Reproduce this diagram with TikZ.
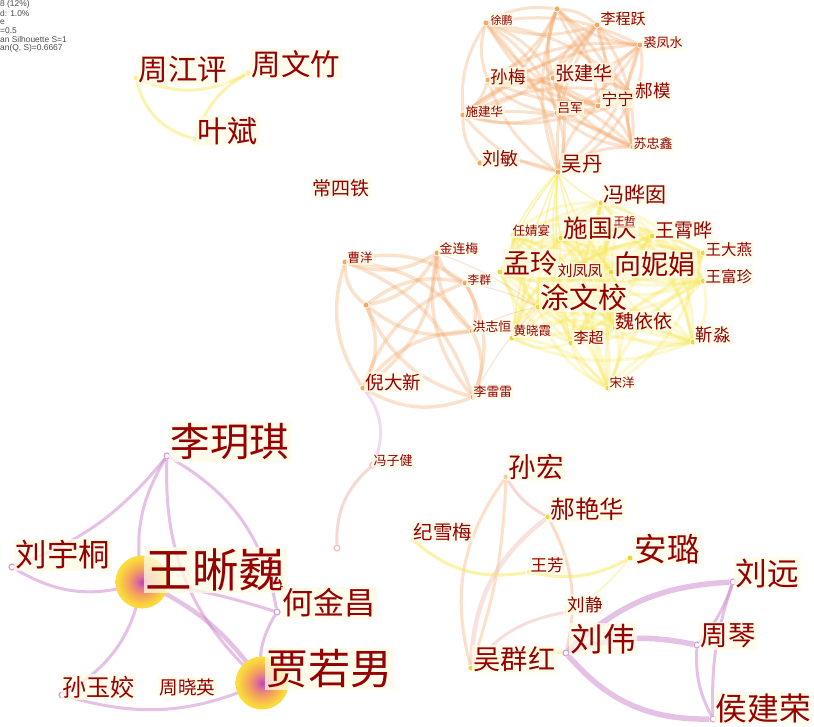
\documentclass[tikz,border=0pt]{standalone}
\usepackage{fontspec}
\setmainfont{Noto Sans CJK SC}
\newfontfamily\legfont{Liberation Sans}
\usetikzlibrary{backgrounds}
\definecolor{labred}{RGB}{150,0,0}
\definecolor{cream}{RGB}{255,252,230}
\definecolor{oedge}{RGB}{246,170,110}
\definecolor{yedge}{RGB}{248,232,80}
\definecolor{pedge}{RGB}{205,135,205}
\definecolor{kedge}{RGB}{240,190,185}
\definecolor{odotc}{RGB}{246,168,95}
\definecolor{ydotc}{RGB}{242,215,50}
\definecolor{pdotc}{RGB}{215,160,215}
\definecolor{hcA}{RGB}{185,70,180}
\definecolor{hcB}{RGB}{225,110,150}
\definecolor{hcC}{RGB}{245,165,90}
\definecolor{hcD}{RGB}{250,215,60}
\definecolor{hcE}{RGB}{248,238,85}
\pgfdeclareradialshading{hotspot}{\pgfpoint{0bp}{0bp}}{color(0bp)=(hcA); color(5bp)=(hcB); color(13bp)=(hcC); color(22bp)=(hcD); color(35bp)=(hcE); color(50bp)=(hcE)}
\tikzset{
  dotO/.style={circle, fill=odotc, draw=white, line width=0.6pt, inner sep=0pt, minimum size=6pt},
  dotY/.style={circle, fill=ydotc, draw=white, line width=0.6pt, inner sep=0pt, minimum size=6pt},
  dotP/.style={circle, fill=white, draw=pdotc, line width=1.2pt, inner sep=0pt, minimum size=6pt},
  hot/.style={circle, shading=hotspot, inner sep=0pt, minimum size=53pt},
  lab/.style={anchor=west, fill=cream, fill opacity=0.75, text opacity=1, text=labred, inner sep=1.5pt},
  fs/.style={font=\fontsize{#1}{#1}\selectfont},
  eO/.style={draw=oedge, line width=3pt, draw opacity=0.34},
  eY/.style={draw=yedge, line width=3pt, draw opacity=0.28},
  eP/.style={draw=pedge, line width=3pt, draw opacity=0.5},
  eK/.style={draw=kedge, line width=3pt, draw opacity=0.6},
  leg/.style={anchor=west, inner sep=0pt, text=black!70, font=\legfont\fontsize{8.4}{8.4}\selectfont}
}
\newcommand\cliquedraw[3]{%
  \foreach \a [count=\i] in {#2}{%
    \foreach \b [count=\j] in {#2}{%
      \ifnum\j>\i\relax
        \pgfmathtruncatemacro\bb{ifthenelse(mod(\i+\j,2)==0,#3,-#3)}%
        \draw[#1] (\a) to[bend left=\bb] (\b);
      \fi}}}
\begin{document}
\begin{tikzpicture}[x=1pt,y=-1pt]
\useasboundingbox (0,0) rectangle (814,726);
% legend
\node[leg] (g1) at (0,4.5) {8 (12\%)};
\node[leg] (g2) at (0,13.3) {d: 1.0\%};
\node[leg] (g3) at (0,22) {e};
\node[leg] (g4) at (0,30.7) {=0.5};
\node[leg] (g5) at (0,39.4) {an Silhouette S=1};
\node[leg] (g6) at (0,48.2) {an(Q, S)=0.6667};
% ---------- dots ----------
% top cluster
\node[dotO] (t0) at (557,9) {};
\node[dotO] (t1) at (486,23) {};
\node[dotO] (t2) at (597,25) {};
\node[dotO] (t3) at (640,45) {};
\node[dotO] (t4) at (488,80) {};
\node[dotO] (t5) at (553,78) {};
\node[dotO] (t6) at (598,106) {};
\node[dotO] (t7) at (633,95) {};
\node[dotO] (t8) at (463,115) {};
\node[dotO] (t9) at (557,113) {};
\node[dotO] (t10) at (633,147) {};
\node[dotO] (t11) at (480,163) {};
\node[dotO] (t12) at (558,172) {};
% yellow cluster
\node[dotY] (y1) at (601,203) {};
\node[dotY] (y2) at (561,238) {};
\node[dotY] (y3) at (614,226) {};
\node[dotY] (y4) at (513,235) {};
\node[dotY] (y5) at (652,236) {};
\node[dotY] (y6) at (703,253) {};
\node[dotY] (y7) at (703,281) {};
\node[dotY] (y8) at (500,272) {};
\node[dotY] (y9) at (557,275) {};
\node[dotY] (y10) at (611,272) {};
\node[dotY] (y11) at (538,307) {};
\node[dotY] (y12) at (512,338) {};
\node[dotY] (y13) at (571,343) {};
\node[dotY] (y14) at (615,328) {};
\node[dotY] (y15) at (693,342) {};
\node[dotY] (y16) at (608,388) {};
% orange left cluster
\node[dotO] (o1) at (345,262) {};
\node[dotO] (o2) at (437,253) {};
\node[dotO] (o3) at (465,283) {};
\node[dotO] (o4) at (366,305) {};
\node[dotO] (o5) at (472,331) {};
\node[dotO] (o6) at (363,388) {};
\node[dotO] (o7) at (473,397) {};
\node[dotP, draw=kedge] (o8) at (373,465) {};
\node[dotP, draw=kedge] (o9) at (337,548) {};
% top left
\node[dotY, fill=yedge!60] (z1) at (136,78) {};
\node[dotY, fill=yedge!60] (z2) at (248,73) {};
\node[dotY, fill=yedge!60] (z3) at (195,139) {};
% bottom left
\node[dotP] (p1) at (167,456) {};
\node[dotP] (p2) at (12,567) {};
\node[hot] (p3) at (142,582) {};
\node[dotP] (p4) at (277,612) {};
\node[hot] (p5) at (262,683) {};
\node[dotP] (p6) at (62,695) {};
% bottom right
\node[dotO, fill=odotc!60] (r1) at (506,477) {};
\node[dotY] (r2) at (548,517) {};
\node[dotY, fill=yedge!60] (r3) at (413,540) {};
\node[dotY, fill=yedge!60] (r4) at (529,572) {};
\node[dotY] (r5) at (630,558) {};
\node[dotP] (r6) at (733,582) {};
\node[dotY, fill=yedge!60] (r7) at (567,612) {};
\node[dotP] (r8) at (566,653) {};
\node[dotP] (r9) at (697,645) {};
\node[dotY] (r10) at (471,668) {};
\node[dotP] (r11) at (713,719) {};
% ---------- edges ----------
\begin{scope}[on background layer]
\fill[white] (0,0) rectangle (814,726);
\cliquedraw{eO}{t0,t1,t2,t3,t4,t5,t6,t7,t8,t9,t10,t12}{18}
\draw[eO] (t11) to[bend left=20] (t8);
\draw[eO] (t11) to[bend left=15] (t12);
\cliquedraw{eY}{y1,y2,y3,y4,y5,y6,y7,y8,y9,y10,y11,y12,y13,y14,y15,y16}{22}
\foreach \n in {y1,y2,y4,y8,y9,y10,y11,y12,y13,y14}{\draw[eY, line width=1.5pt, draw opacity=0.45] (t12) to[bend right=8] (\n);}
\cliquedraw{eO, line width=3.5pt, draw opacity=0.34}{o1,o2,o3,o4,o5,o6,o7}{25}
\foreach \n in {o2,o3,o5,o7}{\draw[eO, line width=1pt] (\n) to[bend left=8] (y11);}
\draw[eK, draw=pedge!50] (o6) to[bend left=30] (o8);
\draw[eK] (o8) to[bend right=25] (o9);
% top left
\draw[eY, draw opacity=0.45] (z1) to[bend right=25] (z2);
\draw[eY, draw opacity=0.45] (z1) to[bend right=30] (z3);
\draw[eY, draw opacity=0.45] (z2) to[bend right=20] (z3);
% bottom left
\draw[eP] (p1) to[bend left=15] (p2);
\draw[eP] (p1) to[bend right=20] (p3.center);
\draw[eP] (p1) to[bend right=25] (p5.center);
\draw[eP] (p1) to[bend left=25] (p4);
\draw[eP] (p2) to[bend right=25] (p3.center);
\draw[eP] (p3.center) to[bend left=5] (p4);
\draw[eP, line width=4.5pt] (p3.center) to[bend left=15] (p5.center);
\draw[eP] (p3.center) to[bend left=25] (p6);
\draw[eP] (p6) to[bend right=20] (p5.center);
\draw[eP] (p4) to[bend right=20] (p5.center);
% bottom right
\draw[eK] (r1) to[bend right=15] (r2);
\draw[eO, draw opacity=0.35] (r1) to[bend right=25] (r10);
\draw[eO, draw opacity=0.35] (r1) to[bend left=8] (r10);
\draw[eK, line width=4.5pt, draw opacity=0.45] (r2) to[bend right=25] (r10);
\draw[eO, draw opacity=0.4] (r2) to[bend left=20] (r8);
\draw[eY, draw opacity=0.5] (r3) to[bend right=25] (r4);
\draw[eY, draw opacity=0.5] (r4) to[bend right=20] (r5);
\draw[eY, line width=1pt, draw opacity=0.5] (r5) to[bend left=10] (r7);
\draw[eK, draw opacity=0.5] (r10) to[bend left=20] (r7);
\draw[eY, draw opacity=0.5] (r10) to[bend left=15] (r8);
\draw[eP, line width=5.5pt] (r8) to[bend left=20] (r6);
\draw[eP, line width=5.5pt] (r8) to[bend left=15] (r9);
\draw[eP, line width=5.5pt] (r8) to[bend right=25] (r11);
\draw[eP] (r6) to[bend left=10] (r9);
\draw[eP] (r6) to[bend right=10] (r11);
\draw[eP] (r9) to[bend right=15] (r11);
\end{scope}
% ---------- labels ----------
\node[lab,fs=11] (Lt1) at (489,20) {徐鹏};
\node[lab,fs=15] (Lt2) at (599,19) {李程跃};
\node[lab,fs=13] (Lt3) at (642,43) {裘凤水};
\node[lab,fs=17.5] (Lt4) at (489,77) {孙梅};
\node[lab,fs=19] (Lt5) at (554,73) {张建华};
\node[lab,fs=16] (Lt6) at (600,99) {宁宁};
\node[lab,fs=17.5] (Lt7) at (634,91) {郝模};
\node[lab,fs=12.5] (Lt8) at (464,112) {施建华};
\node[lab,fs=12.5] (Lt9) at (556,108) {吕军};
\node[lab,fs=13] (Lt10) at (632,144) {苏忠鑫};
\node[lab,fs=18] (Lt11) at (481,159) {刘敏};
\node[lab,fs=20.5] (Lt12) at (560,164) {吴丹};
\node[lab,fs=21] (Ly1) at (602,195) {冯晔囡};
\node[lab,fs=24.5] (Ly2) at (562,228) {施国庆};
\node[lab,fs=11] (Ly3) at (612,221) {王哲};
\node[lab,fs=12.5] (Ly4) at (511,231) {任婧宴};
\node[lab,fs=19] (Ly5) at (654,230) {王霄晔};
\node[lab,fs=15.5] (Ly6) at (704,250) {王大燕};
\node[lab,fs=15.5] (Ly7) at (704,277) {王富珍};
\node[lab,fs=27] (Ly8) at (502,263) {孟玲};
\node[lab,fs=15] (Ly9) at (556,271) {刘凤凤};
\node[lab,fs=27] (Ly10) at (613,264) {向妮娟};
\node[lab,fs=29] (Ly11) at (539,297) {涂文校};
\node[lab,fs=12.5] (Ly12) at (512,331) {黄晓霞};
\node[lab,fs=15] (Ly13) at (572,338) {李超};
\node[lab,fs=19] (Ly14) at (614,321) {魏依依};
\node[lab,fs=17.5] (Ly15) at (694,335) {靳淼};
\node[lab,fs=12.5] (Ly16) at (608,383) {宋洋};
\node[lab,fs=12.5] (Lo1) at (346,258) {曹洋};
\node[lab,fs=12.8] (Lo2) at (438,249) {金连梅};
\node[lab,fs=11.7] (Lo3) at (466,280) {李群};
\node[lab,fs=12.8] (Lo5) at (471,327) {洪志恒};
\node[lab,fs=18.5] (Lo6) at (364,382) {倪大新};
\node[lab,fs=12.8] (Lo7) at (472,392) {李雷雷};
\node[lab,fs=13] (Lo8) at (372,461) {冯子健};
\node[lab,fs=19] (Lcs) at (311,188) {常四铁};
\node[lab,fs=29.5] (Lz1) at (137,70) {周江评};
\node[lab,fs=29.5] (Lz2) at (250,64) {周文竹};
\node[lab,fs=30] (Lz3) at (196,131) {叶斌};
\node[lab,fs=39.5] (Lp1) at (169,442) {李玥琪};
\node[lab,fs=31.5] (Lp2) at (14,555) {刘宇桐};
\node[lab,fs=46.5] (Lp3) at (144,570) {王晰巍};
\node[lab,fs=31] (Lp4) at (281,603) {何金昌};
\node[lab,fs=42] (Lp5) at (265,669) {贾若男};
\node[lab,fs=24] (Lp6) at (61,687) {孙玉姣};
\node[lab,fs=18.6] (Lzx) at (158,687) {周晓英};
\node[lab,fs=27.5] (Lr1) at (507,467) {孙宏};
\node[lab,fs=24.4] (Lr2) at (549,509) {郝艳华};
\node[lab,fs=19.4] (Lr3) at (412,532) {纪雪梅};
\node[lab,fs=16.5] (Lr4) at (529,565) {王芳};
\node[lab,fs=32.5] (Lr5) at (633,549) {安璐};
\node[lab,fs=31.7] (Lr6) at (734,573) {刘远};
\node[lab,fs=17.5] (Lr7) at (566,605) {刘静};
\node[lab,fs=32.5] (Lr8) at (569,639) {刘伟};
\node[lab,fs=27.5] (Lr9) at (699,636) {周琴};
\node[lab,fs=27.2] (Lr10) at (472,659) {吴群红};
\node[lab,fs=31.7] (Lr11) at (714,708) {侯建荣};
\end{tikzpicture}
\end{document}
